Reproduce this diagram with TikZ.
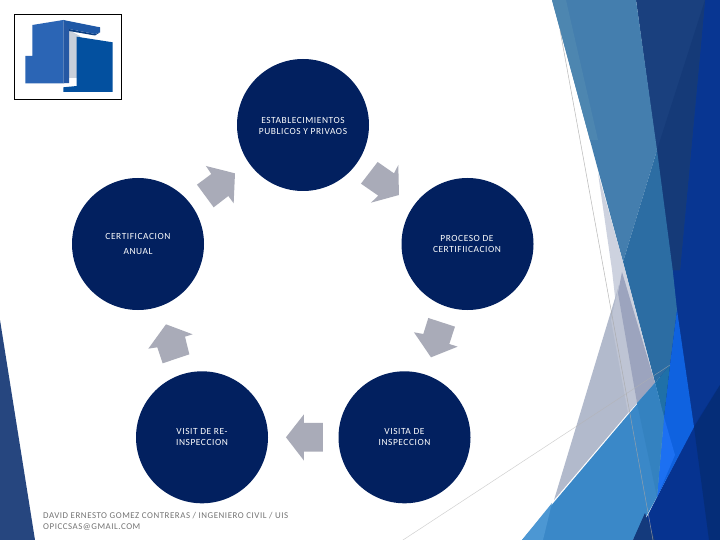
\documentclass[tikz,border=0pt]{standalone}
\usepackage{fontspec}
\setmainfont[LetterSpace=6]{Carlito}
\definecolor{circ}{HTML}{02205F}
\definecolor{arr}{HTML}{A9ABB8}
\tikzset{
  bubble/.style={circle,fill=circ,draw=none,minimum size=132pt,inner sep=0pt},
  ctext/.style={text=white,font=\fontsize{9.4}{11}\selectfont,align=center,inner sep=0pt},
  foot/.style={text=black!55,font=\fontsize{8.9}{10.5}\selectfont,align=left,inner sep=0pt,anchor=north west},
  arrowshape/.style={fill=arr,draw=none},
  deco/.style={draw=none},
  hair/.style={line width=0.5pt}
}
\begin{document}
\begin{tikzpicture}[x=1pt,y=-1pt]
\useasboundingbox (0,0) rectangle (720,540);
\fill[white] (0,0) rectangle (720,540);
% left wedge
\fill[deco,fill={rgb,255:red,38;green,70;blue,127}] (0,320) -- (35,540) -- (0,540) -- cycle;
% right decoration
\fill[deco,fill={rgb,255:red,8;green,54;blue,146}] (660,0) -- (720,0) -- (720,400) -- (693,427) -- (660,427) -- cycle;
\fill[deco,fill={rgb,255:red,26;green,64;blue,126}] (636,0) -- (705,0) -- (680,270) -- (672.7,270) -- cycle;
\fill[deco,fill={rgb,255:red,21;green,58;blue,120}] (705,0) -- (657,150) -- (672.7,270) -- (680,270) -- cycle;
\fill[deco,fill={rgb,255:red,68;green,126;blue,174}] (552,0) -- (636,0) -- (657,150) -- (623,262) -- cycle;
\fill[deco,fill={rgb,255:red,77;green,134;blue,176}] (552,0) -- (566,0) -- (598,140) -- (590,140) -- cycle;
\fill[deco,fill={rgb,255:red,44;green,109;blue,163}] (657,150) -- (672.7,270) -- (677,310) -- (670,365) -- (655,383) -- (623,262) -- cycle;
\fill[deco,fill={rgb,255:red,205;green,210;blue,223}] (598,173) -- (623,262) -- (655,383) -- (628,413) -- (612,270) -- cycle;
\fill[deco,fill={rgb,255:red,178;green,186;blue,204}] (619,285) -- (554,500) -- (628,413) -- cycle;
\fill[deco,fill={rgb,255:red,190;green,196;blue,212}] (611,320) -- (619,285) -- (637,403) -- (628,413) -- cycle;
\fill[deco,fill={rgb,255:red,156;green,164;blue,190}] (622,272) -- (655,383) -- (637,403) -- (618,293) -- cycle;
\fill[deco,fill={rgb,255:red,6;green,51;blue,144}] (693,427) -- (720,385) -- (720,540) -- (635,540) -- cycle;
\fill[deco,fill={rgb,255:red,5;green,45;blue,120}] (694,427) -- (720,385) -- (720,540) -- (709,540) -- cycle;
\fill[deco,fill={rgb,255:red,15;green,98;blue,224}] (677,310) -- (694,427) -- (657,497) -- (664,417) -- (670,365) -- cycle;
\fill[deco,fill={rgb,255:red,28;green,112;blue,242}] (664,417) -- (675,455) -- (657,497) -- cycle;
\fill[deco,fill={rgb,255:red,31;green,112;blue,168}] (655,383) -- (670,365) -- (664,417) -- cycle;
\fill[deco,fill={rgb,255:red,58;green,136;blue,200}] (655,383) -- (664,417) -- (657,497) -- (633,540) -- (522,540) -- cycle;
\fill[deco,fill={rgb,255:red,76;green,151;blue,211}] (522,540) -- (543,540) -- (552,503) -- cycle;
\fill[deco,fill={rgb,255:red,52;green,130;blue,192}] (637,403) -- (655,383) -- (664,417) -- (657,497) -- cycle;
\fill[deco,fill={rgb,255:red,20;green,58;blue,124}] (645,513) -- (633,540) -- (655,540) -- cycle;
% hair lines
\coordinate (ha) at (560,30);
\coordinate (hb) at (653,540);
\coordinate (hc) at (403,540);
\coordinate (hd) at (670,365);
\draw[hair,draw=black!35,opacity=.8] (ha) -- (hb);
\draw[hair,draw=black!30,opacity=.6] (hc) -- (hd);
% logo
\fill[deco,fill={rgb,255:red,201;green,208;blue,218}] (69,30) -- (80,36) -- (80,78) -- (69,78) -- cycle;
\fill[deco,fill={rgb,255:red,43;green,101;blue,181}] (32.3,25) -- (63.3,20) -- (63.3,83.3) -- (25.3,83.3) -- (25.3,56) -- (32.3,56) -- cycle;
\fill[deco,fill={rgb,255:red,37;green,88;blue,164}] (63.3,20) -- (69,23) -- (69,83) -- (63.3,83.3) -- cycle;
\fill[deco,fill={rgb,255:red,12;green,62;blue,128}] (69,29) -- (95,34) -- (100,32.3) -- (95,35.5) -- (69,31) -- cycle;
\fill[deco,fill={rgb,255:red,30;green,88;blue,166}] (63.3,20) -- (100,27.3) -- (100,32.3) -- (95,34) -- (69,29) -- cycle;
\fill[deco,fill={rgb,255:red,3;green,80;blue,159}] (76.7,36.7) -- (112.7,42.3) -- (112.7,92) -- (76.7,92) -- (63.3,92) -- (63.3,87.3) -- (76.7,86) -- cycle;
\node[draw=black,line width=0.9pt,fill=none,minimum width=107pt,minimum height=85pt,inner sep=0pt] (logo) at (68,57) {};
% circles
\node[bubble] (top) at (303,125) {};
\node[bubble] (right) at (467.5,244) {};
\node[bubble] (left) at (138,244) {};
\node[bubble] (br) at (404.5,437.3) {};
\node[bubble] (bl) at (202,437.3) {};
% labels
\node[ctext] (t1) at (303,125.5) {ESTABLECIMIENTOS\\PUBLICOS Y PRIVAOS};
\node[ctext] (r1) at (467,244) {PROCESO DE\\CERTIFIICACION};
\node[ctext,font=\fontsize{9.4}{15}\selectfont] (l1) at (138,244) {CERTIFICACION\\ANUAL};
\node[ctext] (b1) at (404.5,437) {VISITA DE\\INSPECCION};
\node[ctext] (b2) at (202,437) {VISIT DE RE-\\INSPECCION};
\node[foot] (f) at (43,512.5) {DAVID ERNESTO GOMEZ CONTRERAS / INGENIERO CIVIL / UIS\\OPICCSAS@GMAIL.COM};
% block arrows
\begin{scope}[shift={(140,150)},x=0.3333pt,y=-0.3333pt]
\fill[arrowshape] (285,70) -- (281,160) -- (265,138) -- (221,172) -- (171,104) -- (214,72) -- (198,48) -- cycle;
\fill[arrowshape] (777,135) -- (693,158) -- (715,137) -- (663,101) -- (713,36) -- (762,70) -- (775,45) -- cycle;
\fill[arrowshape] (873,622) -- (822,547) -- (850,552) -- (865,504) -- (945,530) -- (928,582) -- (953,590) -- cycle;
\fill[arrowshape] (438,862) -- (492,793) -- (492,819) -- (549,819) -- (549,905) -- (492,905) -- (492,932) -- cycle;
\fill[arrowshape] (78,523) -- (158,553) -- (135,560) -- (148,613) -- (68,640) -- (52,592) -- (25,596) -- cycle;
\end{scope}
\end{tikzpicture}
\end{document}
